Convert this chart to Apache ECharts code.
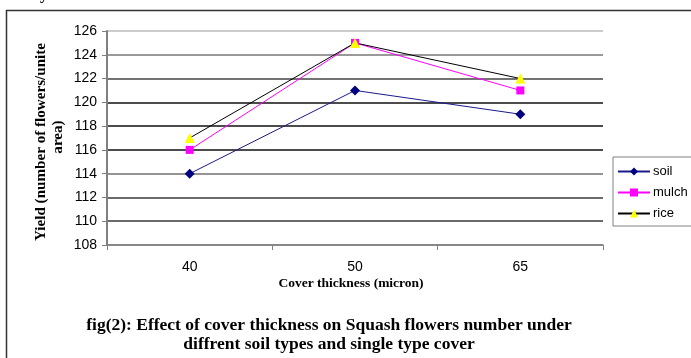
<!DOCTYPE html>
<html>
<head>
<meta charset="utf-8">
<script src="https://cdn.jsdelivr.net/npm/echarts@6/dist/echarts.min.js"></script>
<style>
html,body{margin:0;padding:0;background:#fff;}
#c{width:691px;height:358px;}
</style>
</head>
<body>
<div id="c"></div>
<script>
const categories = ['40', '50', '65'];
const soil = [114, 121, 119];
const mulch = [116, 125, 121];
const rice = [117, 125, 122];
const yMin = 108, yMax = 126, yStep = 2;
const yAxisName = ['Yield (number of flowers/unite', 'area)'];
const xAxisName = 'Cover thickness (micron)';
const caption = ['fig(2): Effect of cover thickness on Squash flowers number under', 'diffrent soil types and single type cover'];

const chart = echarts.init(document.getElementById('c'), null, {renderer: 'canvas'});
const sans = '"Liberation Sans", Arial, sans-serif';
const serif = '"Liberation Serif", "Times New Roman", serif';

chart.setOption({
  animation: false,
  backgroundColor: '#fff',
  grid: {left: 107, top: 31, width: 496, height: 214, containLabel: false},
  legend: {
    orient: 'vertical',
    left: 613, top: 157,
    width: 77,
    borderColor: '#808080', borderWidth: 1,
    padding: [8, 6, 6, 4],
    itemGap: 8,
    itemWidth: 32, itemHeight: 10,
    textStyle: {fontFamily: sans, fontSize: 13, color: '#000', padding: [0,0,0,-2]},
    data: ['soil', 'mulch', 'rice']
  },
  xAxis: {
    type: 'category',
    data: categories,
    boundaryGap: true,
    axisLine: {lineStyle: {color: '#808080', width: 1.5}},
    axisTick: {show: true, length: 5, alignWithLabel: false, lineStyle: {color: '#808080'}},
    axisLabel: {fontFamily: sans, fontSize: 14, color: '#000', margin: 15},
    splitLine: {show: false}
  },
  yAxis: {
    type: 'value',
    min: yMin, max: yMax, interval: yStep,
    axisLine: {show: true, lineStyle: {color: '#808080', width: 2}},
    axisTick: {show: true, length: 5, lineStyle: {color: '#808080'}},
    axisLabel: {fontFamily: sans, fontSize: 14, color: '#000', margin: 10},
    splitLine: {show: true, lineStyle: {width: 1.5, color: ['#808080', '#3a3a3a', '#3a3a3a', '#707070', '#111', '#111', '#111', '#444', '#777', '#bbb']}}
  },
  series: [
    {name: 'soil', type: 'line', data: soil, symbol: 'diamond', symbolSize: 10,
     itemStyle: {color: '#000080', borderWidth: 0}, lineStyle: {color: '#1a1a8c', width: 1}},
    {name: 'mulch', type: 'line', data: mulch, symbol: 'rect', symbolSize: 8,
     itemStyle: {color: '#ff00ff', borderWidth: 0}, lineStyle: {color: '#ff00ff', width: 1}},
    {name: 'rice', type: 'line', data: rice, symbol: 'triangle', symbolSize: 10,
     itemStyle: {color: '#ffff00', borderWidth: 0}, lineStyle: {color: '#000', width: 1}}
  ],
  graphic: [
    {type: 'rect', shape: {x: 6.5, y: 10.5, width: 720, height: 400}, style: {fill: 'none', stroke: '#333', lineWidth: 1.5}, silent: true},
    {type: 'text', x: 40, y: -13, style: {text: 'y', font: 'bold 16px ' + serif, fill: '#000'}},
    {type: 'text', x: 41, y: 142, rotation: Math.PI / 2, scaleX: 1.08,
     style: {text: yAxisName[0], font: 'bold 14px ' + serif, fill: '#000', align: 'center', verticalAlign: 'middle'}},
    {type: 'text', x: 58, y: 137, rotation: Math.PI / 2, scaleX: 1.08,
     style: {text: yAxisName[1], font: 'bold 14px ' + serif, fill: '#000', align: 'center', verticalAlign: 'middle'}},
    {type: 'text', x: 351, y: 284,
     style: {text: xAxisName, font: 'bold 13.5px ' + serif, fill: '#000', align: 'center', verticalAlign: 'middle'}},
    {type: 'text', x: 329, y: 325,
     style: {text: caption[0], font: 'bold 17.5px ' + serif, fill: '#000', align: 'center', verticalAlign: 'middle'}},
    {type: 'text', x: 329, y: 344,
     style: {text: caption[1], font: 'bold 17.5px ' + serif, fill: '#000', align: 'center', verticalAlign: 'middle'}}
  ]
});
</script>
</body>
</html>
